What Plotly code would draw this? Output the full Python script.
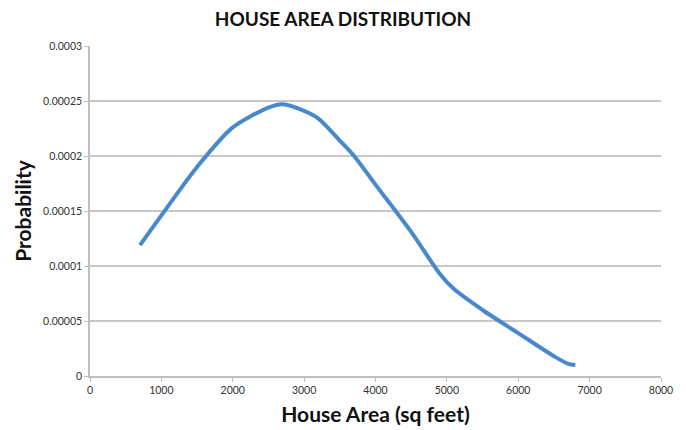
import plotly.graph_objects as go

# House area (sq ft) and estimated probability density
area = [700, 1000, 1500, 2000, 2500, 2700, 3000, 3200, 3500, 3700, 4000,
        4500, 4900, 5100, 5500, 6000, 6500, 6700, 6800]
probability = [0.000119, 0.000146, 0.000190, 0.000226, 0.000244, 0.000247,
               0.000241, 0.000234, 0.000214, 0.000200, 0.000174, 0.000131,
               0.000093, 0.000079, 0.000060, 0.000039, 0.000018, 0.000011,
               0.000010]

x_ticks = [0, 1000, 2000, 3000, 4000, 5000, 6000, 7000, 8000]
y_ticks = [0, 0.00005, 0.0001, 0.00015, 0.0002, 0.00025, 0.0003]
y_tick_labels = ["0", "0.00005", "0.0001", "0.00015", "0.0002", "0.00025", "0.0003"]

fig = go.Figure(
    go.Scatter(
        x=area,
        y=probability,
        mode="lines",
        line=dict(color="#4a88cc", width=4, shape="spline", smoothing=0.8),
        hoverinfo="x+y",
    )
)

fig.update_layout(
    width=686,
    height=430,
    margin=dict(l=90, r=25, t=46, b=54),
    paper_bgcolor="white",
    plot_bgcolor="white",
    showlegend=False,
    font=dict(family="Lato, Arial, sans-serif", color="#222"),
    title=dict(
        text="<b>HOUSE AREA DISTRIBUTION</b>",
        x=0.5,
        xanchor="center",
        y=0.955,
        yanchor="middle",
        font=dict(size=19, color="#111"),
    ),
)

fig.update_xaxes(
    range=[0, 8000],
    tickvals=x_ticks,
    ticktext=[str(v) for v in x_ticks],
    showgrid=False,
    zeroline=False,
    showline=True,
    linecolor="#bfbfbf",
    linewidth=1.5,
    ticks="outside",
    ticklen=4,
    tickcolor="#bfbfbf",
    tickfont=dict(size=10.5, color="#333"),
    automargin=False,
    title=dict(text="<b>House Area (sq feet)</b>", font=dict(size=21, color="#111"), standoff=12),
)

fig.update_yaxes(
    range=[0, 0.0003],
    tickvals=y_ticks,
    ticktext=y_tick_labels,
    showgrid=True,
    gridcolor="#c8c8c8",
    gridwidth=1.5,
    zeroline=False,
    showline=True,
    linecolor="#bfbfbf",
    linewidth=1.5,
    ticks="outside",
    ticklen=4,
    tickcolor="#bfbfbf",
    tickfont=dict(size=10.5, color="#333"),
    automargin=False,
    title=dict(text="<b>Probability</b>", font=dict(size=21, color="#111"), standoff=6),
)

fig.write_html("out.html")
